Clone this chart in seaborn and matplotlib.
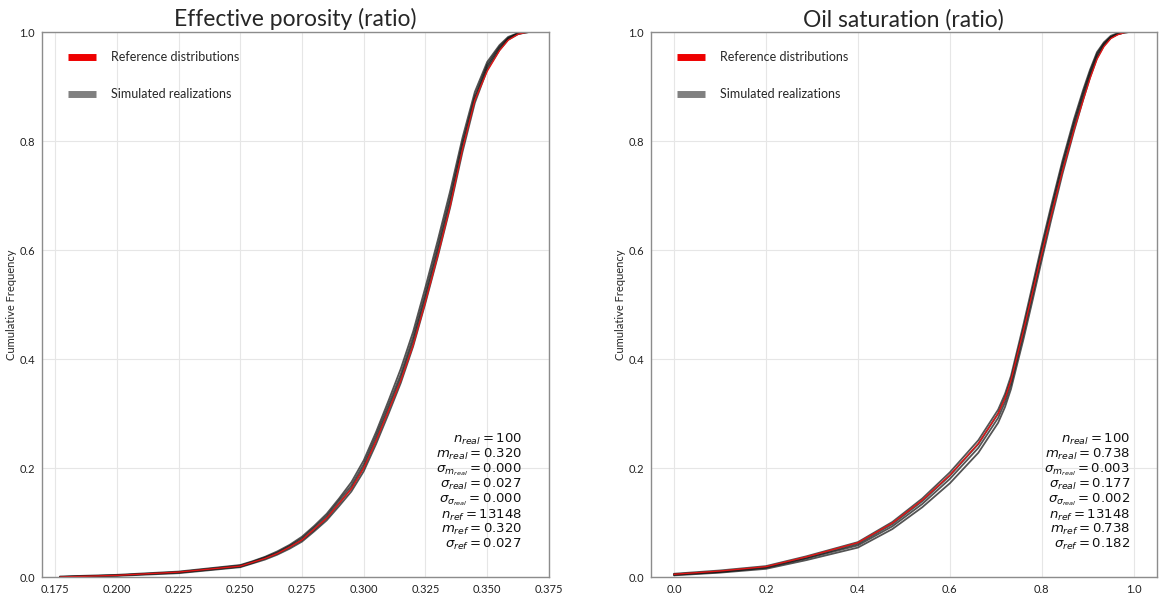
import numpy as np
import pandas as pd
import matplotlib
matplotlib.use("Agg")
import matplotlib.pyplot as plt
from matplotlib.lines import Line2D
import seaborn as sns

# ---- Effective porosity: CDF of the reference data and of four representative realizations
POR_X = [0.177, 0.200, 0.225, 0.250, 0.255, 0.260, 0.265, 0.270, 0.275, 0.280,
         0.285, 0.290, 0.295, 0.300, 0.305, 0.310, 0.315, 0.320, 0.325, 0.330,
         0.335, 0.340, 0.345, 0.350, 0.355, 0.3585, 0.3625, 0.3655, 0.367]
POR_REF = [0.0, 0.003, 0.009, 0.020, 0.027, 0.034, 0.043, 0.055, 0.068, 0.088,
           0.108, 0.135, 0.162, 0.200, 0.250, 0.305, 0.360, 0.425, 0.505, 0.590,
           0.680, 0.785, 0.875, 0.928, 0.966, 0.985, 0.996, 0.999, 1.0]
POR_REAL_1 = [0.001, 0.004, 0.010, 0.022, 0.029, 0.037, 0.047, 0.059, 0.074, 0.094,
              0.116, 0.144, 0.174, 0.214, 0.266, 0.323, 0.382, 0.450, 0.532, 0.618,
              0.708, 0.806, 0.890, 0.945, 0.976, 0.991, 0.998, 1.0, 1.0]
POR_REAL_2 = [0.0, 0.003, 0.009, 0.021, 0.028, 0.036, 0.045, 0.057, 0.071, 0.091,
              0.112, 0.140, 0.168, 0.207, 0.259, 0.315, 0.372, 0.440, 0.521, 0.607,
              0.697, 0.797, 0.882, 0.940, 0.973, 0.989, 0.998, 1.0, 1.0]
POR_REAL_3 = [0.0, 0.003, 0.008, 0.019, 0.026, 0.034, 0.043, 0.055, 0.068, 0.087,
              0.108, 0.135, 0.163, 0.201, 0.252, 0.308, 0.365, 0.432, 0.513, 0.598,
              0.688, 0.790, 0.877, 0.936, 0.970, 0.988, 0.997, 0.999, 1.0]
POR_REAL_4 = [0.0, 0.002, 0.007, 0.018, 0.025, 0.032, 0.041, 0.052, 0.065, 0.084,
              0.104, 0.130, 0.157, 0.194, 0.244, 0.299, 0.356, 0.423, 0.503, 0.588,
              0.678, 0.780, 0.870, 0.931, 0.967, 0.986, 0.996, 0.999, 1.0]

# ---- Oil saturation
OIL_X = [0.0, 0.1, 0.2, 0.288, 0.4, 0.475, 0.54, 0.6, 0.662, 0.705, 0.72, 0.733,
         0.748, 0.76, 0.78, 0.80, 0.82, 0.845, 0.87, 0.89, 0.905, 0.92, 0.935,
         0.95, 0.965, 0.98, 0.99, 1.0]
OIL_REF = [0.005, 0.011, 0.019, 0.037, 0.063, 0.099, 0.141, 0.187, 0.245, 0.300,
           0.328, 0.361, 0.412, 0.452, 0.523, 0.594, 0.662, 0.745, 0.820, 0.875,
           0.915, 0.950, 0.973, 0.988, 0.995, 0.999, 1.0, 1.0]
OIL_REAL_1 = [0.003, 0.008, 0.015, 0.031, 0.054, 0.088, 0.128, 0.172, 0.228, 0.283,
              0.312, 0.345, 0.396, 0.436, 0.508, 0.582, 0.654, 0.740, 0.818, 0.876,
              0.917, 0.952, 0.975, 0.989, 0.996, 0.999, 1.0, 1.0]
OIL_REAL_2 = [0.004, 0.009, 0.017, 0.034, 0.058, 0.093, 0.134, 0.180, 0.237, 0.292,
              0.321, 0.354, 0.405, 0.446, 0.518, 0.592, 0.664, 0.750, 0.827, 0.883,
              0.922, 0.956, 0.977, 0.990, 0.996, 0.999, 1.0, 1.0]
OIL_REAL_3 = [0.005, 0.010, 0.018, 0.035, 0.061, 0.097, 0.139, 0.186, 0.244, 0.300,
              0.329, 0.362, 0.414, 0.455, 0.528, 0.602, 0.673, 0.758, 0.834, 0.889,
              0.927, 0.960, 0.979, 0.991, 0.997, 1.0, 1.0, 1.0]
OIL_REAL_4 = [0.006, 0.012, 0.020, 0.038, 0.064, 0.101, 0.144, 0.192, 0.251, 0.307,
              0.336, 0.369, 0.421, 0.463, 0.536, 0.610, 0.680, 0.764, 0.840, 0.894,
              0.931, 0.963, 0.981, 0.993, 0.998, 1.0, 1.0, 1.0]

TITLES = ["Effective porosity (ratio)", "Oil saturation (ratio)"]
POR_XTICKS = [0.175, 0.200, 0.225, 0.250, 0.275, 0.300, 0.325, 0.350, 0.375]
OIL_XTICKS = [0.0, 0.2, 0.4, 0.6, 0.8, 1.0]
YTICKS = [0.0, 0.2, 0.4, 0.6, 0.8, 1.0]

POR_STATS = [r"$n_{real}=100$", r"$m_{real}=0.320$", r"$\sigma_{m_{real}}=0.000$",
             r"$\sigma_{real}=0.027$", r"$\sigma_{\sigma_{real}}=0.000$",
             r"$n_{ref}=13148$", r"$m_{ref}=0.320$", r"$\sigma_{ref}=0.027$"]
OIL_STATS = [r"$n_{real}=100$", r"$m_{real}=0.738$", r"$\sigma_{m_{real}}=0.003$",
             r"$\sigma_{real}=0.177$", r"$\sigma_{\sigma_{real}}=0.002$",
             r"$n_{ref}=13148$", r"$m_{ref}=0.738$", r"$\sigma_{ref}=0.182$"]

LEGEND_LABELS = ["Reference distributions", "Simulated realizations"]


def realizations_frame(x, reals):
    rows = []
    for i, r in enumerate(reals):
        rows.append(pd.DataFrame({"value": x, "cdf": r, "real": i}))
    return pd.concat(rows, ignore_index=True)


sns.set_theme(style="whitegrid")
plt.rcParams["font.family"] = ["Lato", "DejaVu Sans"]
plt.rcParams["mathtext.fontset"] = "dejavusans"

fig = plt.figure(figsize=(11.6, 5.94), dpi=100)
ax1 = fig.add_axes([0.0362, 0.0286, 0.437, 0.9175])
ax2 = fig.add_axes([0.5612, 0.0286, 0.436, 0.9175])

panels = [
    (ax1, POR_X, POR_REF, [POR_REAL_1, POR_REAL_2, POR_REAL_3, POR_REAL_4],
     POR_XTICKS, (0.1697, 0.375), "{:.3f}", POR_STATS),
    (ax2, OIL_X, OIL_REF, [OIL_REAL_1, OIL_REAL_2, OIL_REAL_3, OIL_REAL_4],
     OIL_XTICKS, (-0.05, 1.05), "{:.1f}", OIL_STATS),
]

for k, (ax, x, ref, reals, xticks, xlim, fmt, stats) in enumerate(panels):
    df_real = realizations_frame(x, reals)
    sns.lineplot(data=df_real, x="value", y="cdf", units="real", estimator=None,
                 color="#121212", lw=1.3, alpha=0.72, ax=ax, legend=False)
    df_ref = pd.DataFrame({"value": x, "cdf": ref})
    sns.lineplot(data=df_ref, x="value", y="cdf", color="#e01515", lw=1.0,
                 ax=ax, legend=False)

    ax.set_xlim(*xlim)
    ax.set_ylim(0, 1.0)
    ax.set_xticks(xticks)
    ax.set_xticklabels([fmt.format(t) for t in xticks], fontsize=8)
    ax.set_yticks(YTICKS)
    ax.set_yticklabels(["{:.1f}".format(t) for t in YTICKS], fontsize=8)
    ax.set_xlabel("")
    ax.set_ylabel("Cumulative Frequency", fontsize=8, labelpad=2)
    ax.set_title(TITLES[k], fontsize=16.5, pad=4)
    ax.grid(True, color="#e6e6e6", lw=0.8)
    for s in ax.spines.values():
        s.set_color("#8c8c8c")
        s.set_linewidth(1.0)
    ax.tick_params(axis="both", length=3, width=0.8, color="#8c8c8c", pad=2,
                   labelcolor="#222222")

    ax.text(0.947, 0.046, "\n".join(stats), transform=ax.transAxes, ha="right",
            va="bottom", fontsize=9.5, linespacing=0.95, color="#111111",
            family="DejaVu Sans")

    handles = [Line2D([0], [0], color="#ee0000", lw=5, solid_capstyle="butt"),
               Line2D([0], [0], color="#808080", lw=5, solid_capstyle="butt")]
    ax.legend(handles, LEGEND_LABELS, loc="upper left", bbox_to_anchor=(0.03, 0.985),
              frameon=False, fontsize=9, handlelength=2.2, handletextpad=1.2,
              labelspacing=2.0)

fig.savefig("out.png", dpi=100)
